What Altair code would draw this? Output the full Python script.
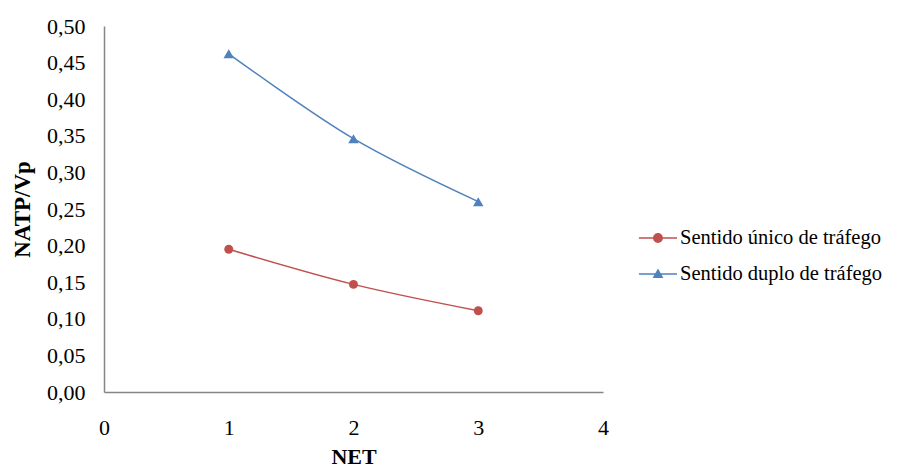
import altair as alt
import pandas as pd

net = [1, 2, 3]
series = ["Sentido único de tráfego", "Sentido duplo de tráfego"]
unico = [0.195, 0.147, 0.111]
duplo = [0.462, 0.346, 0.260]
colors = ["#C0504D", "#4F81BD"]
y_ticks = [0.0, 0.05, 0.1, 0.15, 0.2, 0.25, 0.3, 0.35, 0.4, 0.45, 0.5]
x_ticks = [0, 1, 2, 3, 4]

rows = []
for s, vals in zip(series, [unico, duplo]):
    for n, v in zip(net, vals):
        rows.append({"NET": n, "valor": v, "serie": s})
df = pd.DataFrame(rows)

FONT = "Liberation Serif, Times New Roman, serif"
FS = 22

x = alt.X("NET:Q", scale=alt.Scale(domain=[0, 4], nice=False),
          axis=alt.Axis(values=x_ticks, title="NET", grid=False, ticks=False,
                        domainColor="#868686", domainWidth=1.5,
                        labelFont=FONT, labelFontSize=FS, labelColor="black",
                        labelPadding=25, labelFlush=False,
                        titleFont=FONT, titleFontSize=FS, titleFontWeight="bold",
                        titleColor="black", titleY=71, titleBaseline="alphabetic"))
y = alt.Y("valor:Q", scale=alt.Scale(domain=[0, 0.5], nice=False),
          axis=alt.Axis(values=y_ticks, title="NATP/Vp", grid=False, ticks=False,
                        domainColor="#868686", domainWidth=1.5,
                        labelExpr="replace(format(datum.value, '.2f'), '.', ',')",
                        labelFont=FONT, labelFontSize=FS, labelColor="black",
                        labelPadding=19, labelFlush=False,
                        titleFont=FONT, titleFontSize=FS + 1, titleFontWeight="bold",
                        titleColor="black", titleX=-82, titleY=183,
                        titleAngle=-90, titleAlign="center", titleBaseline="middle"))

base = alt.Chart(df)
layers = []
for s, c, shp, sz in zip(series, colors, ["circle", "triangle-up"], [80, 110]):
    sub = base.transform_filter(alt.datum.serie == s)
    layers.append(sub.mark_line(strokeWidth=1.5, interpolate="catmull-rom", color=c)
                  .encode(x=x, y=y))
    layers.append(sub.mark_point(filled=True, shape=shp, size=sz, opacity=1, color=c)
                  .encode(x=x, y=y))

path_circle = ("M-1.27,-0.05H1.27V0.05H-1.27Z "
               "M0.33,0A0.33,0.33 0 1,1 -0.33,0A0.33,0.33 0 1,1 0.33,0Z")
path_tri = ("M-1.27,-0.05H1.27V0.05H-1.27Z "
            "M0,-0.36L0.36,0.26L-0.36,0.26Z")

leg_props = dict(title=None, orient="none", legendX=538, legendY=196,
                 labelFont=FONT, labelFontSize=20.5, labelColor="black",
                 labelOffset=6, symbolSize=900, rowPadding=9,
                 symbolOpacity=1, padding=0, labelLimit=400)

leg = base.mark_point(filled=True, opacity=0).encode(
    x=x, y=y,
    color=alt.Color("serie:N", scale=alt.Scale(domain=series, range=colors),
                    legend=alt.Legend(**leg_props)),
    shape=alt.Shape("serie:N", scale=alt.Scale(domain=series, range=[path_circle, path_tri]),
                    legend=alt.Legend(**leg_props)))
layers.append(leg)

chart = alt.layer(*layers).properties(
    width=499, height=366,
    background="white",
    autosize=alt.AutoSizeParams(type="none"),
    padding={"left": 96, "top": 18, "right": 286, "bottom": 75},
).configure_view(stroke=None)

chart.save("out.html", embed_options={"renderer": "svg", "actions": False})
